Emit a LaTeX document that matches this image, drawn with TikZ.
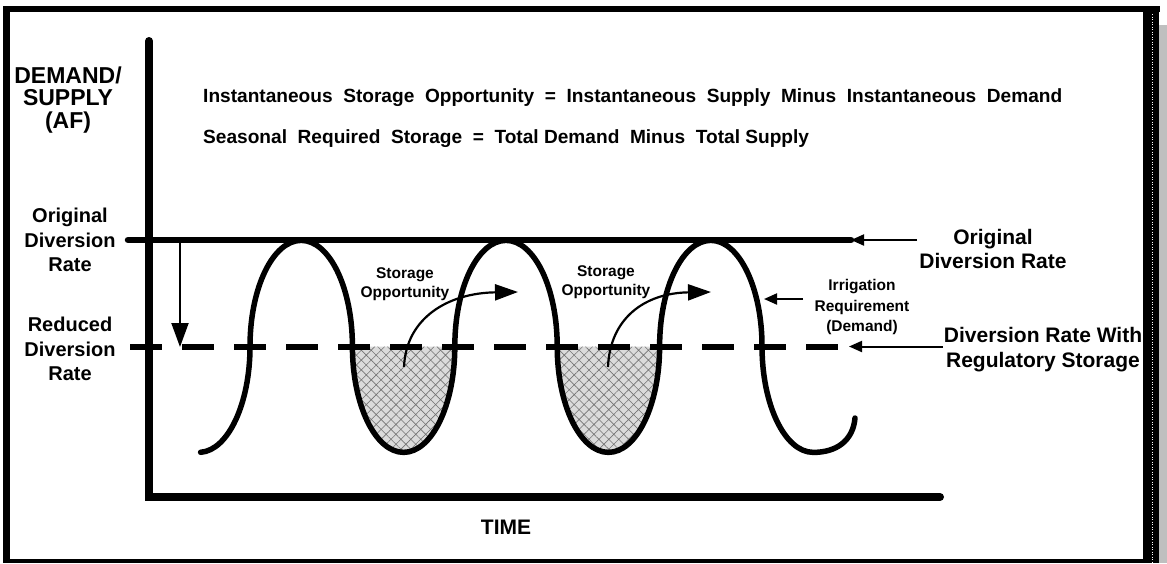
\documentclass[tikz,border=0pt]{standalone}
\usepackage{fontspec}
\setmainfont{Liberation Sans}
\usetikzlibrary{arrows.meta,patterns.meta}
\begin{document}
\begin{tikzpicture}[x=1pt,y=-1pt,
  lbl/.style={align=center, inner sep=0pt},
  bigfont/.style={font=\bfseries\fontsize{21}{23.5}\selectfont},
  midfont/.style={font=\bfseries\fontsize{20}{24.5}\selectfont},
  eqfont/.style={font=\bfseries\fontsize{19.1}{22}\selectfont},
  smallfont/.style={font=\bfseries\fontsize{15.5}{19}\selectfont},
  axisline/.style={line width=8pt, line cap=round, line join=miter},
  rateline/.style={line width=6.5pt, line cap=round},
  reducedline/.style={line width=6pt, dash pattern=on 32pt off 20pt},
  demandcurve/.style={line width=5.5pt, line cap=round, line join=round},
  ell/.style={x radius=51.2, y radius=106},
  hatchfill/.style={fill=gray!28, postaction={pattern={Hatch[angle=45,distance=7pt,line width=0.6pt]}, pattern color=black!55}},
  thinarrow/.style={line width=2pt, -{Triangle[length=13pt,width=11pt]}},
  bigarrow/.style={line width=2.2pt, -{Triangle[length=23pt,width=16pt]}}
]
\useasboundingbox (0,0) rectangle (1167,563);
% frame
\fill[black] (3,6) rectangle (10,563);
\fill[black] (3,6) rectangle (1160,12);
\fill[black] (3,559) rectangle (1159,563);
\fill[black] (1143,6) rectangle (1159,563);
\fill[gray!50] (1159,25) rectangle (1167,563);
\draw[white, line width=0.6pt, dash pattern=on 1pt off 1.5pt] (1152,14) -- (1152,563);

% crossing points of the demand curve with the reduced rate
\coordinate (c1) at (250,346.5);
\coordinate (c2) at (352.4,346.5);
\coordinate (c3) at (454.8,346.5);
\coordinate (c4) at (557.2,346.5);
\coordinate (c5) at (659.6,346.5);
\coordinate (c6) at (762,346.5);

% shaded storage areas
\fill[hatchfill] (c2) arc[ell, start angle=180, end angle=0] -- cycle;
\fill[hatchfill] (c4) arc[ell, start angle=180, end angle=0] -- cycle;

% axes
\coordinate (ytop) at (149,41);
\coordinate (origin) at (149,497);
\coordinate (xend) at (940,497);
\draw[axisline] (ytop) -- (origin) -- (xend);

% diversion rate lines
\coordinate (origStart) at (128,240);
\coordinate (origEnd) at (851,240);
\draw[rateline] (origStart) -- (origEnd);
\coordinate (redStart) at (130,346.5);
\coordinate (redEnd) at (840,346.5);
\draw[reducedline] (redStart) -- (redEnd);

% demand curve
\coordinate (cstart) at (200.6,452.3);
\coordinate (cend) at (855,418);
\draw[demandcurve] (cstart) arc[ell, start angle=88, end angle=0]
  arc[ell, start angle=180, end angle=360]
  arc[ell, start angle=180, end angle=0]
  arc[ell, start angle=180, end angle=360]
  arc[ell, start angle=180, end angle=0]
  arc[ell, start angle=180, end angle=360]
  arc[ell, start angle=180, end angle=90]
  .. controls (836,452.5) and (853,441) .. (cend);

% drop arrow
\coordinate (dropA) at (180,243);
\coordinate (dropB) at (180,347);
\draw[line width=2pt, -{Triangle[length=24pt,width=17pt]}] (dropA) -- (dropB);

% labels
\node[lbl, font=\bfseries\fontsize{23}{22.5}\selectfont] (demand) at (68,100) {DEMAND/\\SUPPLY\\(AF)};
\node[lbl, midfont] (origL) at (70,240) {Original\\Diversion\\Rate};
\node[lbl, midfont] (redL) at (70,349) {Reduced\\Diversion\\Rate};
\node[lbl, eqfont, anchor=west] (eq1) at (203,98) {Instantaneous\ \ Storage\ \ Opportunity\ \ =\ \ Instantaneous\ \ Supply\ \ Minus\ \ Instantaneous\ \ Demand};
\node[lbl, eqfont, anchor=west] (eq2) at (203,139) {Seasonal\ \ Required\ \ Storage\ \ =\ \ Total\ Demand\ \ Minus\ \ Total\ Supply};
\node[lbl, bigfont] (time) at (506,527) {TIME};
\node[lbl, smallfont] (so1) at (405,284) {Storage\\Opportunity};
\node[lbl, smallfont] (so2) at (606,282) {Storage\\Opportunity};
\node[lbl, font=\bfseries\fontsize{15.5}{20.5}\selectfont] (irr) at (862,307) {Irrigation\\Requirement\\(Demand)};
\node[lbl, bigfont] (origR) at (993,249) {Original\\Diversion Rate};
\node[lbl, font=\bfseries\fontsize{21}{25}\selectfont] (regR) at (1043,350) {Diversion Rate With\\Regulatory Storage};

% storage opportunity arrows
\coordinate (s1a) at (404,367);
\coordinate (s1b) at (518,292);
\draw[bigarrow] (s1a) .. controls (406,318) and (448,293) .. (s1b);
\coordinate (s2a) at (608,367);
\coordinate (s2b) at (711,292);
\draw[bigarrow] (s2a) .. controls (610,318) and (645,293) .. (s2b);

% pointer arrows
\coordinate (oa) at (917,240);
\draw[thinarrow] (oa) -- (origEnd);
\coordinate (ra) at (943,346.5);
\coordinate (rb) at (849,346.5);
\draw[thinarrow] (ra) -- (rb);
\coordinate (ia) at (803,299);
\coordinate (ib) at (764,299);
\draw[thinarrow] (ia) -- (ib);
\end{tikzpicture}
\end{document}
